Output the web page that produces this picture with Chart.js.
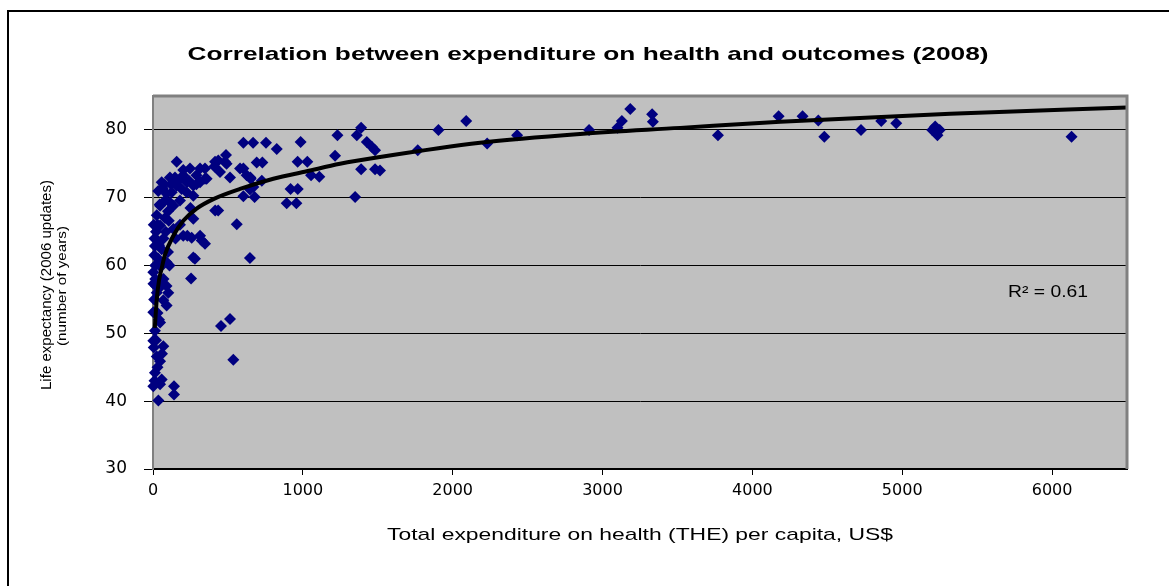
<!DOCTYPE html>
<html>
<head>
<meta charset="utf-8">
<script src="https://cdn.jsdelivr.net/npm/chart.js@4/dist/chart.umd.min.js"></script>
<style>
  html, body { margin: 0; padding: 0; background: #fff; }
</style>
</head>
<body>
<canvas id="graph" width="1169" height="586"></canvas>
<script>
// total expenditure on health per capita (US$) and life expectancy, one entry per country
let expenditure = [
  6130, 5250, 5235, 5200, 5220, 4960, 4860, 4725, 4480, 4440, 4335, 4175, 3770, 3336, 3331, 3185, 3129, 3100, 2910, 2430,
  2230, 2090, 1905, 1767, 1515,
  1389, 1360, 1231, 1427, 1460, 1482, 1215, 1389, 1482, 1349, 1055, 1110, 965, 1030, 985, 918, 966, 892, 957,
  603, 668, 754, 826, 692, 730, 603, 678, 647, 670, 603, 625, 652, 726, 650, 581, 559, 647, 415, 435,
  487, 491, 480, 436, 414, 410, 358, 314, 290, 247, 158, 314, 280, 347, 229, 269, 250, 347, 447, 514,
  325, 258, 202, 269, 254, 514, 454, 536,
  58, 65, 113, 147, 202, 225, 269, 158, 191, 125, 91, 225, 269, 314, 347, 202, 113, 80, 47, 25,
  136, 180, 47, 20, 105, 136, 13, 25, 58, 9, 91, 47,
  2, 3, 25, 102, 69, 91, 2, 47, 13, 2, 69, 5, 25, 47, 13, 58, 2, 140, 140, 36, 47,
  10, 30, 15, 35, 40, 20, 8, 30, 55, 60, 70, 80, 45, 35, 75, 100, 120, 170, 240, 290,
  180, 150, 100, 70, 40, 20, 60, 30, 10, 15, 85, 110, 5, 90
]
let lifeExpectancy = [
  79, 80, 79.2, 80, 80.5, 81, 81.3, 80, 79, 81.4, 82, 82, 79.2, 81.2, 82.3, 83.1, 81.3, 80.3, 80, 79.2,
  78, 81.3, 80, 77, 74,
  80.3, 79.2, 79.2, 78.2, 77.5, 77, 76.2, 74.2, 74.2, 70.1, 73.3, 73.1, 75.3, 75.3, 78.2, 71.3, 71.3, 69.2, 69.2,
  78.1, 78.1, 78.1, 77.2, 75.2, 75.2, 70.2, 70.1, 71.2, 71.6, 74.3, 73.3, 72.8, 72.5, 73, 74.3, 66.1, 61.1, 68.1, 68.1,
  76.3, 75, 75.3, 75.5, 75.3, 74.6, 72.8, 74.3, 73.3, 74.3, 75.3, 64.4, 61, 63.2, 64.4, 66.9, 68.5, 74.3, 73.8, 73,
  63.7, 64.1, 64.4, 61.2, 58.1, 52.1, 51.1, 46.1,
  72.3, 71.4, 73, 73, 73.3, 72.3, 71.8, 71.8, 71.3, 70.8, 70.6, 70.8, 70.3, 72.3, 72.8, 74.1, 69.3, 69.6, 68.8, 67.4,
  68.8, 69.6, 65.9, 65, 66.6, 65.4, 62.9, 63.8, 62.4, 61.5, 60.5, 59.9,
  59, 57.3, 56, 56, 54.9, 54.1, 53.1, 51.6, 50.4, 48.9, 48.1, 47.9, 46.6, 45.9, 44.2, 43.2, 42.2, 42.2, 41, 40.1, 42.5,
  64, 66, 60, 61, 63, 57, 55, 53, 57, 60, 64, 67, 69, 71, 72, 68, 72, 72.5, 72.5, 72,
  66, 64, 62, 58, 52, 49, 47, 45, 43, 58, 65, 60, 66, 57
]

// trend line
let trendX = [12, 25, 40, 60, 80, 136, 202, 291, 403, 581, 803, 1026, 1248, 1515, 2183, 2851, 3518, 4186, 5321, 6500]
let trendY = [50.8, 55.0, 57.8, 59.8, 61.6, 64.4, 66.6, 68.4, 69.8, 71.3, 72.8, 73.9, 75.0, 76.0, 78.1, 79.4, 80.3, 81.2, 82.4, 83.3]

// axis ticks
let xTicks = [0, 1000, 2000, 3000, 4000, 5000, 6000]
let yTicks = [30, 40, 50, 60, 70, 80]

let titleText = 'Correlation between expenditure on health and outcomes (2008)'
let xTitle = 'Total expenditure on health (THE) per capita, US$'
let yTitle1 = 'Life expectancy (2006 updates)'
let yTitle2 = '(number of years)'
let r2Text = 'R\u00b2 = 0.61'

let points = expenditure.map((v, i) => ({x: v, y: lifeExpectancy[i]}))
let trend = trendX.map((v, i) => ({x: v, y: trendY[i]}))

// draws text centered on (x, y), squeezed or stretched to a given width
function stretchText(ctx, text, x, y, font, width, rotate) {
  ctx.save()
  ctx.font = font
  ctx.fillStyle = '#000'
  ctx.textAlign = 'center'
  ctx.textBaseline = 'middle'
  let w = ctx.measureText(text).width
  ctx.translate(x, y)
  if(rotate) ctx.rotate(-Math.PI / 2)
  ctx.scale(width / w, 1)
  ctx.fillText(text, 0, 0)
  ctx.restore()
}

let decor = {
  id: 'decor',
  beforeDraw(chart) {
    let c = chart.ctx
    let a = chart.chartArea
    c.save()
    // outer frame (top and left only)
    c.strokeStyle = '#000'
    c.lineWidth = 2
    c.beginPath()
    c.moveTo(8, 586)
    c.lineTo(8, 11)
    c.lineTo(1169, 11)
    c.stroke()
    // plot background
    c.fillStyle = '#c0c0c0'
    c.fillRect(a.left, a.top, a.right - a.left, a.bottom - a.top)
    c.restore()
  },
  afterDraw(chart) {
    let c = chart.ctx
    let a = chart.chartArea
    c.save()
    c.strokeStyle = '#808080'
    c.lineWidth = 3
    c.beginPath()
    c.moveTo(a.left, a.top)
    c.lineTo(a.right, a.top)
    c.lineTo(a.right, a.bottom)
    c.stroke()
    c.restore()
    stretchText(c, titleText, 588, 55, 'bold 19px "Liberation Sans", Arial', 801)
    stretchText(c, xTitle, 640, 535, '17px "Liberation Sans", Arial', 506)
    stretchText(c, yTitle1, 47, 285, '14px "Liberation Sans", Arial', 210, true)
    stretchText(c, yTitle2, 62, 286, '13px "Liberation Sans", Arial', 120, true)
    stretchText(c, r2Text, 1048, 293, '16px "Liberation Sans", Arial', 80)
  }
}

let ctx = document.getElementById('graph').getContext('2d')

new Chart(ctx, {
  type: 'scatter',
  data: {
    datasets: [{
      label: 'Trend',
      data: trend,
      showLine: true,
      borderColor: '#000',
      borderWidth: 4,
      pointRadius: 0,
      cubicInterpolationMode: 'monotone',
      clip: false
    },
    {
      label: 'Countries',
      data: points,
      pointStyle: 'rectRot',
      pointRadius: 6,
      pointHoverRadius: 6,
      backgroundColor: '#000080',
      borderColor: '#000080',
      borderWidth: 0,
      clip: false
    }]
  },
  options: {
    responsive: false,
    animation: false,
    devicePixelRatio: 1,
    layout: {padding: {left: 0, top: 96, right: 42, bottom: 0}},
    plugins: {
      legend: {display: false},
      title: {display: false},
      tooltip: {enabled: false}
    },
    scales: {
      x: {
        type: 'linear',
        min: 0,
        max: 6500,
        afterBuildTicks: (scale) => { scale.ticks = xTicks.map(v => ({value: v})) },
        ticks: {
          autoSkip: false,
          maxRotation: 0,
          padding: 6,
          color: '#000',
          font: {family: 'DejaVu Sans', size: 16},
          callback: (v) => String(v)
        },
        grid: {drawOnChartArea: false, tickLength: 6, color: '#000'},
        border: {color: '#000', width: 2},
        afterFit: (scale) => { scale.height = 117 }
      },
      y: {
        min: 30,
        max: 85,
        afterBuildTicks: (scale) => { scale.ticks = yTicks.map(v => ({value: v})) },
        ticks: {
          autoSkip: false,
          padding: 17,
          color: '#000',
          font: {family: 'DejaVu Sans', size: 17},
          callback: (v) => String(v)
        },
        grid: {color: '#000', lineWidth: 1, tickLength: 9},
        border: {color: '#808080', width: 2},
        afterFit: (scale) => { scale.width = 153 }
      }
    }
  },
  plugins: [decor]
})
</script>
</body>
</html>
